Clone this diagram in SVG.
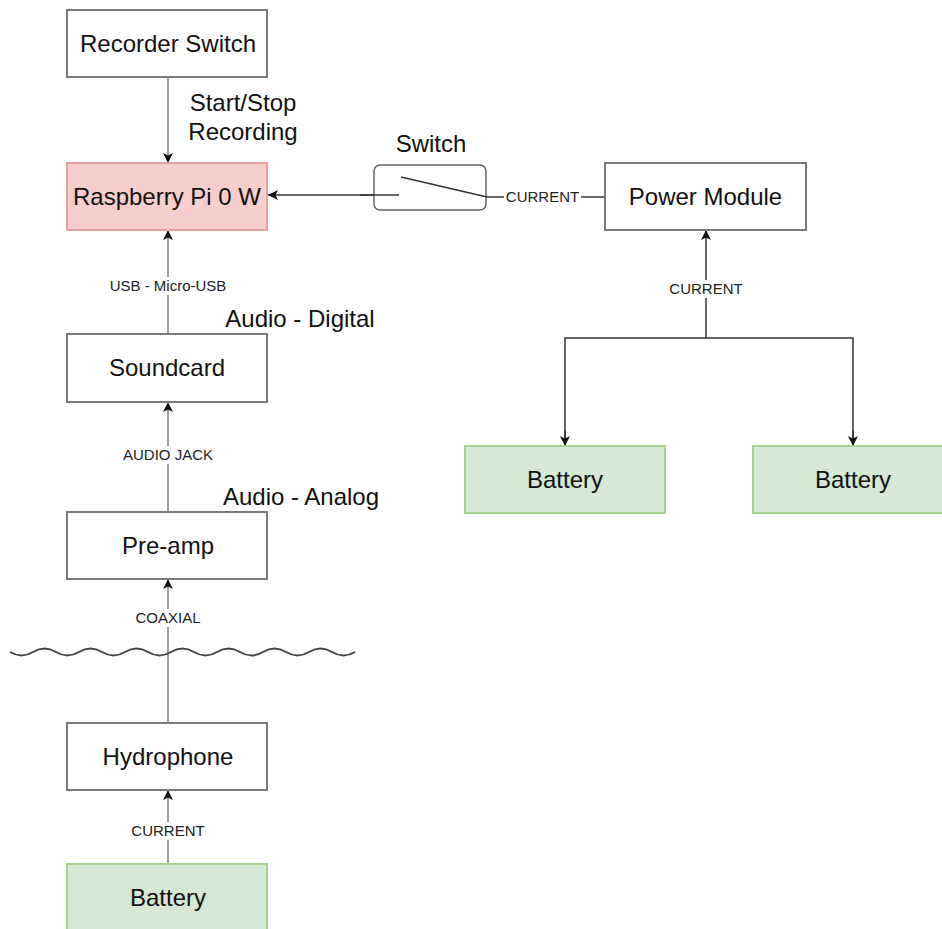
<svg xmlns="http://www.w3.org/2000/svg" width="942" height="929" viewBox="0 0 942 929">
<defs>
<style>
.box{fill:#ffffff;stroke:#7a7a7a;stroke-width:2}
.red{fill:#f8cecc;stroke:#e4a3a1;stroke-width:2}
.green{fill:#d5e8d4;stroke:#a9d18e;stroke-width:2}
.t{font-family:"Liberation Sans",Arial,sans-serif;font-size:24px;fill:#111;text-anchor:middle}
.s{font-family:"Liberation Sans",Arial,sans-serif;font-size:15px;fill:#222;text-anchor:middle}
.lg{stroke:#7f7f7f;stroke-width:1.5;fill:none}
.ld{stroke:#333;stroke-width:1.5;fill:none}
.bg{fill:#ffffff}
</style>
<marker id="arr" viewBox="0 0 10 10" refX="10" refY="5" markerWidth="10" markerHeight="10" markerUnits="userSpaceOnUse" orient="auto">
<path d="M0,0 L10,5 L0,10 L2.5,5 Z" fill="#111"/>
</marker>
</defs>

<g id="connectors">
<line class="lg" x1="168" y1="77" x2="168" y2="163" marker-end="url(#arr)"/>
<line class="lg" x1="168" y1="334" x2="168" y2="230" marker-end="url(#arr)"/>
<line class="lg" x1="168" y1="512" x2="168" y2="402" marker-end="url(#arr)"/>
<line class="lg" x1="168" y1="723" x2="168" y2="579" marker-end="url(#arr)"/>
<line class="lg" x1="168" y1="864" x2="168" y2="790" marker-end="url(#arr)"/>
<line class="ld" x1="399" y1="195" x2="268" y2="195" marker-end="url(#arr)"/>
<line class="ld" x1="605" y1="197" x2="486" y2="197"/>
<line class="ld" x1="706" y1="338" x2="706" y2="230" marker-end="url(#arr)"/>
<polyline class="ld" points="565,445 565,338 853,338 853,445"/>
<line class="ld" x1="565" y1="430" x2="565" y2="446" marker-end="url(#arr)"/>
<line class="ld" x1="853" y1="430" x2="853" y2="446" marker-end="url(#arr)"/>
<rect class="bg" x="106" y="277" width="124" height="18"/>
<text class="s" x="168" y="291">USB - Micro-USB</text>
<rect class="bg" x="122" y="446" width="92" height="18"/>
<text class="s" x="168" y="460">AUDIO JACK</text>
<rect class="bg" x="133" y="609" width="70" height="18"/>
<text class="s" x="168" y="623">COAXIAL</text>
<rect class="bg" x="129" y="822" width="78" height="18"/>
<text class="s" x="168" y="836">CURRENT</text>
<rect class="bg" x="504" y="188" width="77" height="18"/>
<text class="s" x="542.5" y="202">CURRENT</text>
<rect class="bg" x="667" y="280" width="78" height="18"/>
<text class="s" x="706" y="294">CURRENT</text>
</g>

<g id="recorder-switch">
<rect class="box" x="67" y="10" width="200" height="67"/>
<text class="t" x="168" y="52">Recorder Switch</text>
</g>
<g id="start-stop-label">
<text class="t" x="243" y="111">Start/Stop</text>
<text class="t" x="243" y="140">Recording</text>
</g>
<g id="raspberry-pi">
<rect class="red" x="67" y="163" width="200" height="67"/>
<text class="t" x="167" y="205">Raspberry Pi 0 W</text>
</g>
<g id="switch">
<text class="t" x="431" y="152">Switch</text>
<rect x="374" y="165" width="112" height="45" rx="6" ry="6" fill="#fff" stroke="#666" stroke-width="1.5"/>
<line x1="360" y1="195" x2="399" y2="195" stroke="#333" stroke-width="1.5"/>
<line x1="401" y1="177" x2="487" y2="197" stroke="#333" stroke-width="1.5"/>
</g>
<g id="power-module">
<rect class="box" x="605" y="163" width="201" height="67"/>
<text class="t" x="705.5" y="205">Power Module</text>
</g>
<g id="battery-1">
<rect class="green" x="465" y="446" width="200" height="67"/>
<text class="t" x="565" y="488">Battery</text>
</g>
<g id="battery-2">
<rect class="green" x="753" y="446" width="200" height="67"/>
<text class="t" x="853" y="488">Battery</text>
</g>
<g id="audio-digital">
<text class="t" x="300" y="327">Audio - Digital</text>
</g>
<g id="soundcard">
<rect class="box" x="67" y="334" width="200" height="68"/>
<text class="t" x="167" y="376">Soundcard</text>
</g>
<g id="audio-analog">
<text class="t" x="301" y="505">Audio - Analog</text>
</g>
<g id="pre-amp">
<rect class="box" x="67" y="512" width="200" height="67"/>
<text class="t" x="168" y="554">Pre-amp</text>
</g>
<g id="water-surface">
<path d="M10,652 q11.5,7 23,0 t23,0 t23,0 t23,0 t23,0 t23,0 t23,0 t23,0 t23,0 t23,0 t23,0 t23,0 t23,0 t23,0 t23,0" fill="none" stroke="#444" stroke-width="2"/>
</g>
<g id="hydrophone">
<rect class="box" x="67" y="723" width="200" height="67"/>
<text class="t" x="168" y="765">Hydrophone</text>
</g>
<g id="battery-3">
<rect class="green" x="67" y="864" width="200" height="67"/>
<text class="t" x="168" y="906">Battery</text>
</g>
</svg>
